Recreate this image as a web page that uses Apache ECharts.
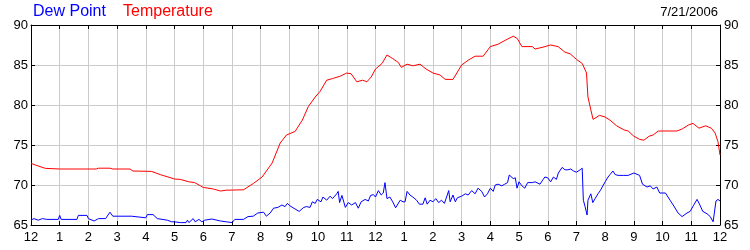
<!DOCTYPE html>
<html><head><meta charset="utf-8">
<script src="https://cdn.jsdelivr.net/npm/echarts@6/dist/echarts.min.js"></script>
<style>html,body{margin:0;padding:0;background:#fff}#c{width:750px;height:250px}</style>
</head><body><div id="c"></div>
<script>
const chartDate = '7/21/2006';
const seriesNames = ['Dew Point', 'Temperature'];
const hourTicks = [0,1,2,3,4,5,6,7,8,9,10,11,12,13,14,15,16,17,18,19,20,21,22,23,24];
const hourLabels = ['12','1','2','3','4','5','6','7','8','9','10','11','12','1','2','3','4','5','6','7','8','9','10','11','12'];

const tempHours = [0,0.15,0.5,1,2.27,2.35,2.75,2.85,3.45,3.55,4.2,4.5,5.0,5.2,5.5,5.7,5.9,6.0,6.35,6.6,6.8,7.4,7.75,8.05,8.4,8.68,8.9,9.2,9.45,9.66,9.9,10.07,10.3,10.5,10.77,11.0,11.15,11.35,11.55,11.7,11.85,12.0,12.23,12.4,12.6,12.8,12.9,13.1,13.3,13.55,13.76,14.0,14.25,14.43,14.7,15.0,15.23,15.47,15.75,16.0,16.27,16.58,16.8,16.94,17.1,17.46,17.56,17.8,18.1,18.36,18.6,18.78,19.0,19.2,19.35,19.4,19.5,19.58,19.8,20.0,20.17,20.4,20.65,20.8,21.0,21.2,21.35,21.53,21.67,21.85,22.5,22.68,22.9,23.06,23.27,23.5,23.7,23.83,23.93,24.0];
const tempValues = [72.7,72.5,72.08,72.0,72.0,72.1,72.1,72.0,72.0,71.75,71.7,71.3,70.75,70.7,70.4,70.3,69.9,69.7,69.5,69.25,69.35,69.4,70.2,71.0,72.75,75.25,76.25,76.7,78.1,79.8,81.0,81.7,83.1,83.3,83.6,84.0,83.9,82.9,83.1,82.9,83.5,84.5,85.2,86.25,85.8,85.3,84.7,85.1,84.9,85.1,84.5,84.0,83.75,83.2,83.2,85.0,85.6,86.1,86.1,87.3,87.6,88.2,88.6,88.3,87.3,87.3,87.0,87.2,87.5,87.3,86.6,86.4,85.7,85.2,84.0,81.0,79.4,78.2,78.7,78.5,78.1,77.4,76.9,76.75,76.1,75.7,75.6,76.1,76.25,76.75,76.75,77.0,77.5,77.7,77.1,77.4,77.1,76.5,75.4,73.75];

const dewHours = [0,0.1,0.25,0.4,0.55,0.95,1.0,1.05,1.6,1.65,1.95,2.0,2.2,2.35,2.6,2.75,2.85,3.5,3.55,4.0,4.05,4.25,4.4,4.75,4.9,4.95,5.0,5.2,5.4,5.45,5.5,5.65,5.72,5.85,5.95,6.05,6.3,6.6,6.8,7.0,7.1,7.4,7.56,7.74,7.9,8.1,8.2,8.33,8.45,8.6,8.74,8.85,8.93,9.02,9.2,9.34,9.5,9.6,9.72,9.8,9.9,9.97,10.1,10.17,10.3,10.42,10.5,10.65,10.7,10.75,10.83,10.95,11.05,11.17,11.3,11.4,11.5,11.64,11.75,11.83,11.93,12.0,12.1,12.2,12.27,12.33,12.4,12.5,12.6,12.7,12.76,12.86,12.96,13.03,13.1,13.2,13.3,13.43,13.53,13.65,13.73,13.8,13.9,14.0,14.1,14.2,14.3,14.4,14.5,14.55,14.6,14.7,14.78,14.85,15.0,15.13,15.23,15.35,15.47,15.57,15.7,15.8,15.9,16.0,16.1,16.17,16.27,16.4,16.5,16.6,16.66,16.8,16.87,16.93,17.0,17.1,17.2,17.3,17.46,17.56,17.73,17.84,17.9,18.0,18.1,18.2,18.3,18.37,18.5,18.6,18.7,18.8,18.9,19.0,19.13,19.2,19.24,19.3,19.37,19.4,19.5,19.57,19.65,19.75,19.83,19.9,20.0,20.1,20.17,20.27,20.35,20.45,20.63,20.8,21.0,21.2,21.3,21.46,21.57,21.67,21.8,21.9,22.1,22.26,22.37,22.54,22.68,22.85,22.96,23.07,23.2,23.3,23.4,23.55,23.66,23.76,23.86,23.93,24.0];
const dewValues = [65.6,65.8,65.6,65.8,65.7,65.7,66.2,65.7,65.7,66.2,66.2,65.8,65.5,65.8,65.8,66.6,66.1,66.1,65.9,65.9,66.3,66.3,65.8,65.6,65.4,65.6,65.4,65.3,65.3,65.6,65.3,65.8,65.4,65.7,65.4,65.6,65.75,65.5,65.4,65.3,65.7,65.7,66.05,66.1,66.5,66.6,66.1,66.5,67.1,67.2,67.5,67.3,67.7,67.4,67.0,66.7,67.2,67.3,67.2,67.9,67.7,68.2,67.9,68.5,68.1,68.6,68.3,68.9,69.2,67.8,68.7,67.2,67.8,67.5,67.8,67.1,67.9,68.2,68.0,68.7,68.8,68.5,69.3,68.75,69.0,70.3,68.3,68.5,67.9,67.15,67.5,68.1,67.9,67.9,69.2,68.75,68.5,68.1,67.6,67.6,68.4,67.6,68.1,67.9,68.3,67.8,68.1,67.7,68.75,69.3,67.9,68.75,67.9,68.4,68.6,68.9,68.75,69.3,68.9,69.6,69.2,68.5,68.9,69.6,69.2,70.0,70.1,69.9,70.1,70.3,71.25,70.8,70.9,69.6,70.4,69.9,69.6,70.3,70.3,70.4,70.1,70.7,71.0,70.9,70.4,71.0,70.7,71.5,72.2,71.9,71.9,72.0,71.75,71.6,71.9,72.1,68.1,67.3,66.25,68.1,68.9,67.8,68.3,68.9,69.3,69.75,70.4,71.0,71.3,71.75,71.3,71.2,71.2,71.2,71.5,71.2,70.1,69.75,69.9,69.5,69.75,69.0,69.0,68.1,67.5,66.5,66.05,66.5,66.7,67.4,68.2,67.5,66.7,66.4,66.05,65.4,68.0,68.2,68.0];

const zip = (xs, ys) => xs.map((x, i) => [x, ys[i]]);
const labelFor = v => { const i = hourTicks.indexOf(v); return i >= 0 ? hourLabels[i] : ''; };

const chart = echarts.init(document.getElementById('c'), null, {renderer: 'canvas'});
const FONT = '"Liberation Sans", Arial, sans-serif';
const axisText = {color: '#000', fontFamily: FONT, fontSize: 13};
chart.setOption({
  animation: false,
  backgroundColor: '#fff',
  grid: {left: 31, right: 30, top: 25, bottom: 25, containLabel: false},
  graphic: [
    {type: 'text', left: 33, top: 4, style: {text: seriesNames[0], fill: '#0000ff', font: '16px ' + FONT}},
    {type: 'text', left: 123, top: 4, style: {text: seriesNames[1], fill: '#ff0000', font: '16px ' + FONT}},
    {type: 'text', right: 32, top: 6, style: {text: chartDate, fill: '#000', font: '13px ' + FONT}}
  ],
  xAxis: [
    {type: 'value', min: 0, max: 24, interval: 1, position: 'bottom',
     axisLine: {show: true, onZero: false, lineStyle: {color: '#000', width: 1}},
     axisTick: {show: true, inside: true, length: 4, lineStyle: {color: '#000'}},
     axisLabel: Object.assign({margin: 6, formatter: labelFor}, axisText),
     splitLine: {show: true, lineStyle: {color: '#cccccc', width: 1}}},
    {type: 'value', min: 0, max: 24, interval: 1, position: 'top',
     axisLine: {show: true, onZero: false, lineStyle: {color: '#000', width: 1}},
     axisTick: {show: true, inside: true, length: 4, lineStyle: {color: '#000'}},
     axisLabel: {show: false}, splitLine: {show: false}}
  ],
  yAxis: [
    {type: 'value', min: 65, max: 90, interval: 5, position: 'left',
     axisLine: {show: true, onZero: false, lineStyle: {color: '#000', width: 1}},
     axisTick: {show: true, inside: true, length: 4, lineStyle: {color: '#000'}},
     axisLabel: Object.assign({margin: 3}, axisText),
     splitLine: {show: true, lineStyle: {color: '#cccccc', width: 1}}},
    {type: 'value', min: 65, max: 90, interval: 5, position: 'right',
     axisLine: {show: true, onZero: false, lineStyle: {color: '#000', width: 1}},
     axisTick: {show: true, inside: true, length: 4, lineStyle: {color: '#000'}},
     axisLabel: Object.assign({margin: 4}, axisText),
     splitLine: {show: false}}
  ],
  series: [
    {name: seriesNames[1], type: 'line', xAxisIndex: 0, yAxisIndex: 0, showSymbol: false,
     data: zip(tempHours, tempValues), lineStyle: {color: '#ff0000', width: 1}, itemStyle: {color: '#ff0000'}},
    {name: seriesNames[0], type: 'line', xAxisIndex: 0, yAxisIndex: 0, showSymbol: false,
     data: zip(dewHours, dewValues), lineStyle: {color: '#0000ff', width: 1}, itemStyle: {color: '#0000ff'}}
  ]
});
</script></body></html>
